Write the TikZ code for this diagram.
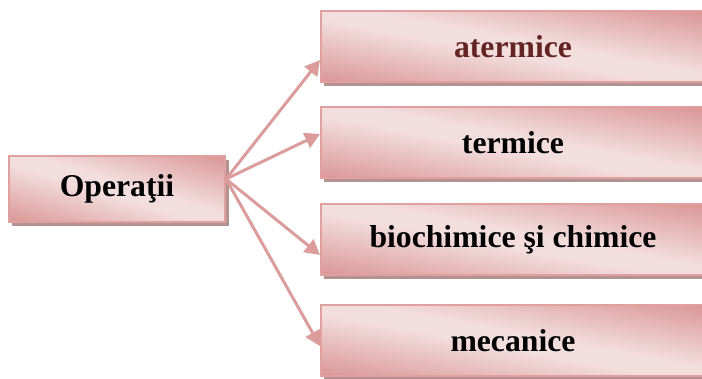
\documentclass[tikz,border=0pt]{standalone}
\usepackage{fontspec}
\setmainfont{Liberation Serif}
\usetikzlibrary{arrows.meta}

\definecolor{rosedark}{HTML}{D99594}
\definecolor{roselight}{HTML}{F3DEDE}
\definecolor{roseline}{HTML}{E0A0A0}
\definecolor{roseshadow}{HTML}{B39292}
\definecolor{arrowrose}{HTML}{DC9C9C}
\definecolor{darkred}{HTML}{632423}

% dark-light-dark gradient; turned by 45 degrees in a unit square and then
% stretched to the box, so the light band runs along the box diagonal
\pgfdeclareverticalshading{boxglow}{100bp}{%
  color(0bp)=(rosedark); color(14bp)=(rosedark); color(46bp)=(roselight);
  color(54bp)=(roselight); color(86bp)=(rosedark); color(100bp)=(rosedark)}

% \glowfill{cx}{cy}{width}{height}: gradient fill of a box centred at (cx,cy)
\newcommand\glowfill[4]{%
  \begin{scope}[transform canvas={shift={(#1,#2)}, xscale=#3/100, yscale=#4/100}]
    \shade[shading=boxglow, shading angle=-45] (-50pt,-50pt) rectangle (50pt,50pt);
  \end{scope}}

\tikzset{
  pinkbox/.style={
    rectangle, draw=roseline, line width=2pt, inner sep=0pt,
    font=\fontsize{31.7}{38}\selectfont\bfseries, text=black
  },
  leftbox/.style={pinkbox, minimum width=216pt, minimum height=66pt},
  rightbox/.style={pinkbox, minimum width=384pt, minimum height=71pt},
  shadowbox/.style={fill=roseshadow},
  link/.style={draw=arrowrose, line width=3pt,
    -{Triangle[length=15pt,width=16pt]}}
}

\begin{document}
\begin{tikzpicture}[x=1pt, y=-1pt]
  \useasboundingbox (0,0) rectangle (702,379);

  % drop shadows, offset down and to the right
  \fill[shadowbox] (12,160) rectangle (229,226);
  \foreach \cy in {46.5,143,239.5,340.5}
    \fill[shadowbox] (324,\cy-31.5) rectangle (716,\cy+39.5);

  % gradient fills
  \glowfill{117}{189}{216}{66}
  \foreach \cy in {46.5,143,239.5,340.5}
    {\glowfill{513}{\cy}{384}{71}}

  % source box
  \node[leftbox] (op) at (117,189) {Operaţii};

  % category boxes
  \node[rightbox, text=darkred] (b1) at (513,46.5) {atermice};
  \node[rightbox] (b2) at (513,143) {termice};
  \node[rightbox] (b3) at (513,239.5) {biochimice şi chimice};
  \node[rightbox] (b4) at (513,340.5) {mecanice};

  % connectors fanning out from the source box
  \coordinate (src) at ([yshift=10pt]op.east);
  \draw[link] (src) -- ([yshift=-13.5pt]b1.west);
  \draw[link] (src) -- ([yshift=9pt]b2.west);
  \draw[link] (src) -- ([yshift=-15.5pt]b3.west);
  \draw[link] (src) -- ([yshift=-5.5pt]b4.west);
\end{tikzpicture}
\end{document}
